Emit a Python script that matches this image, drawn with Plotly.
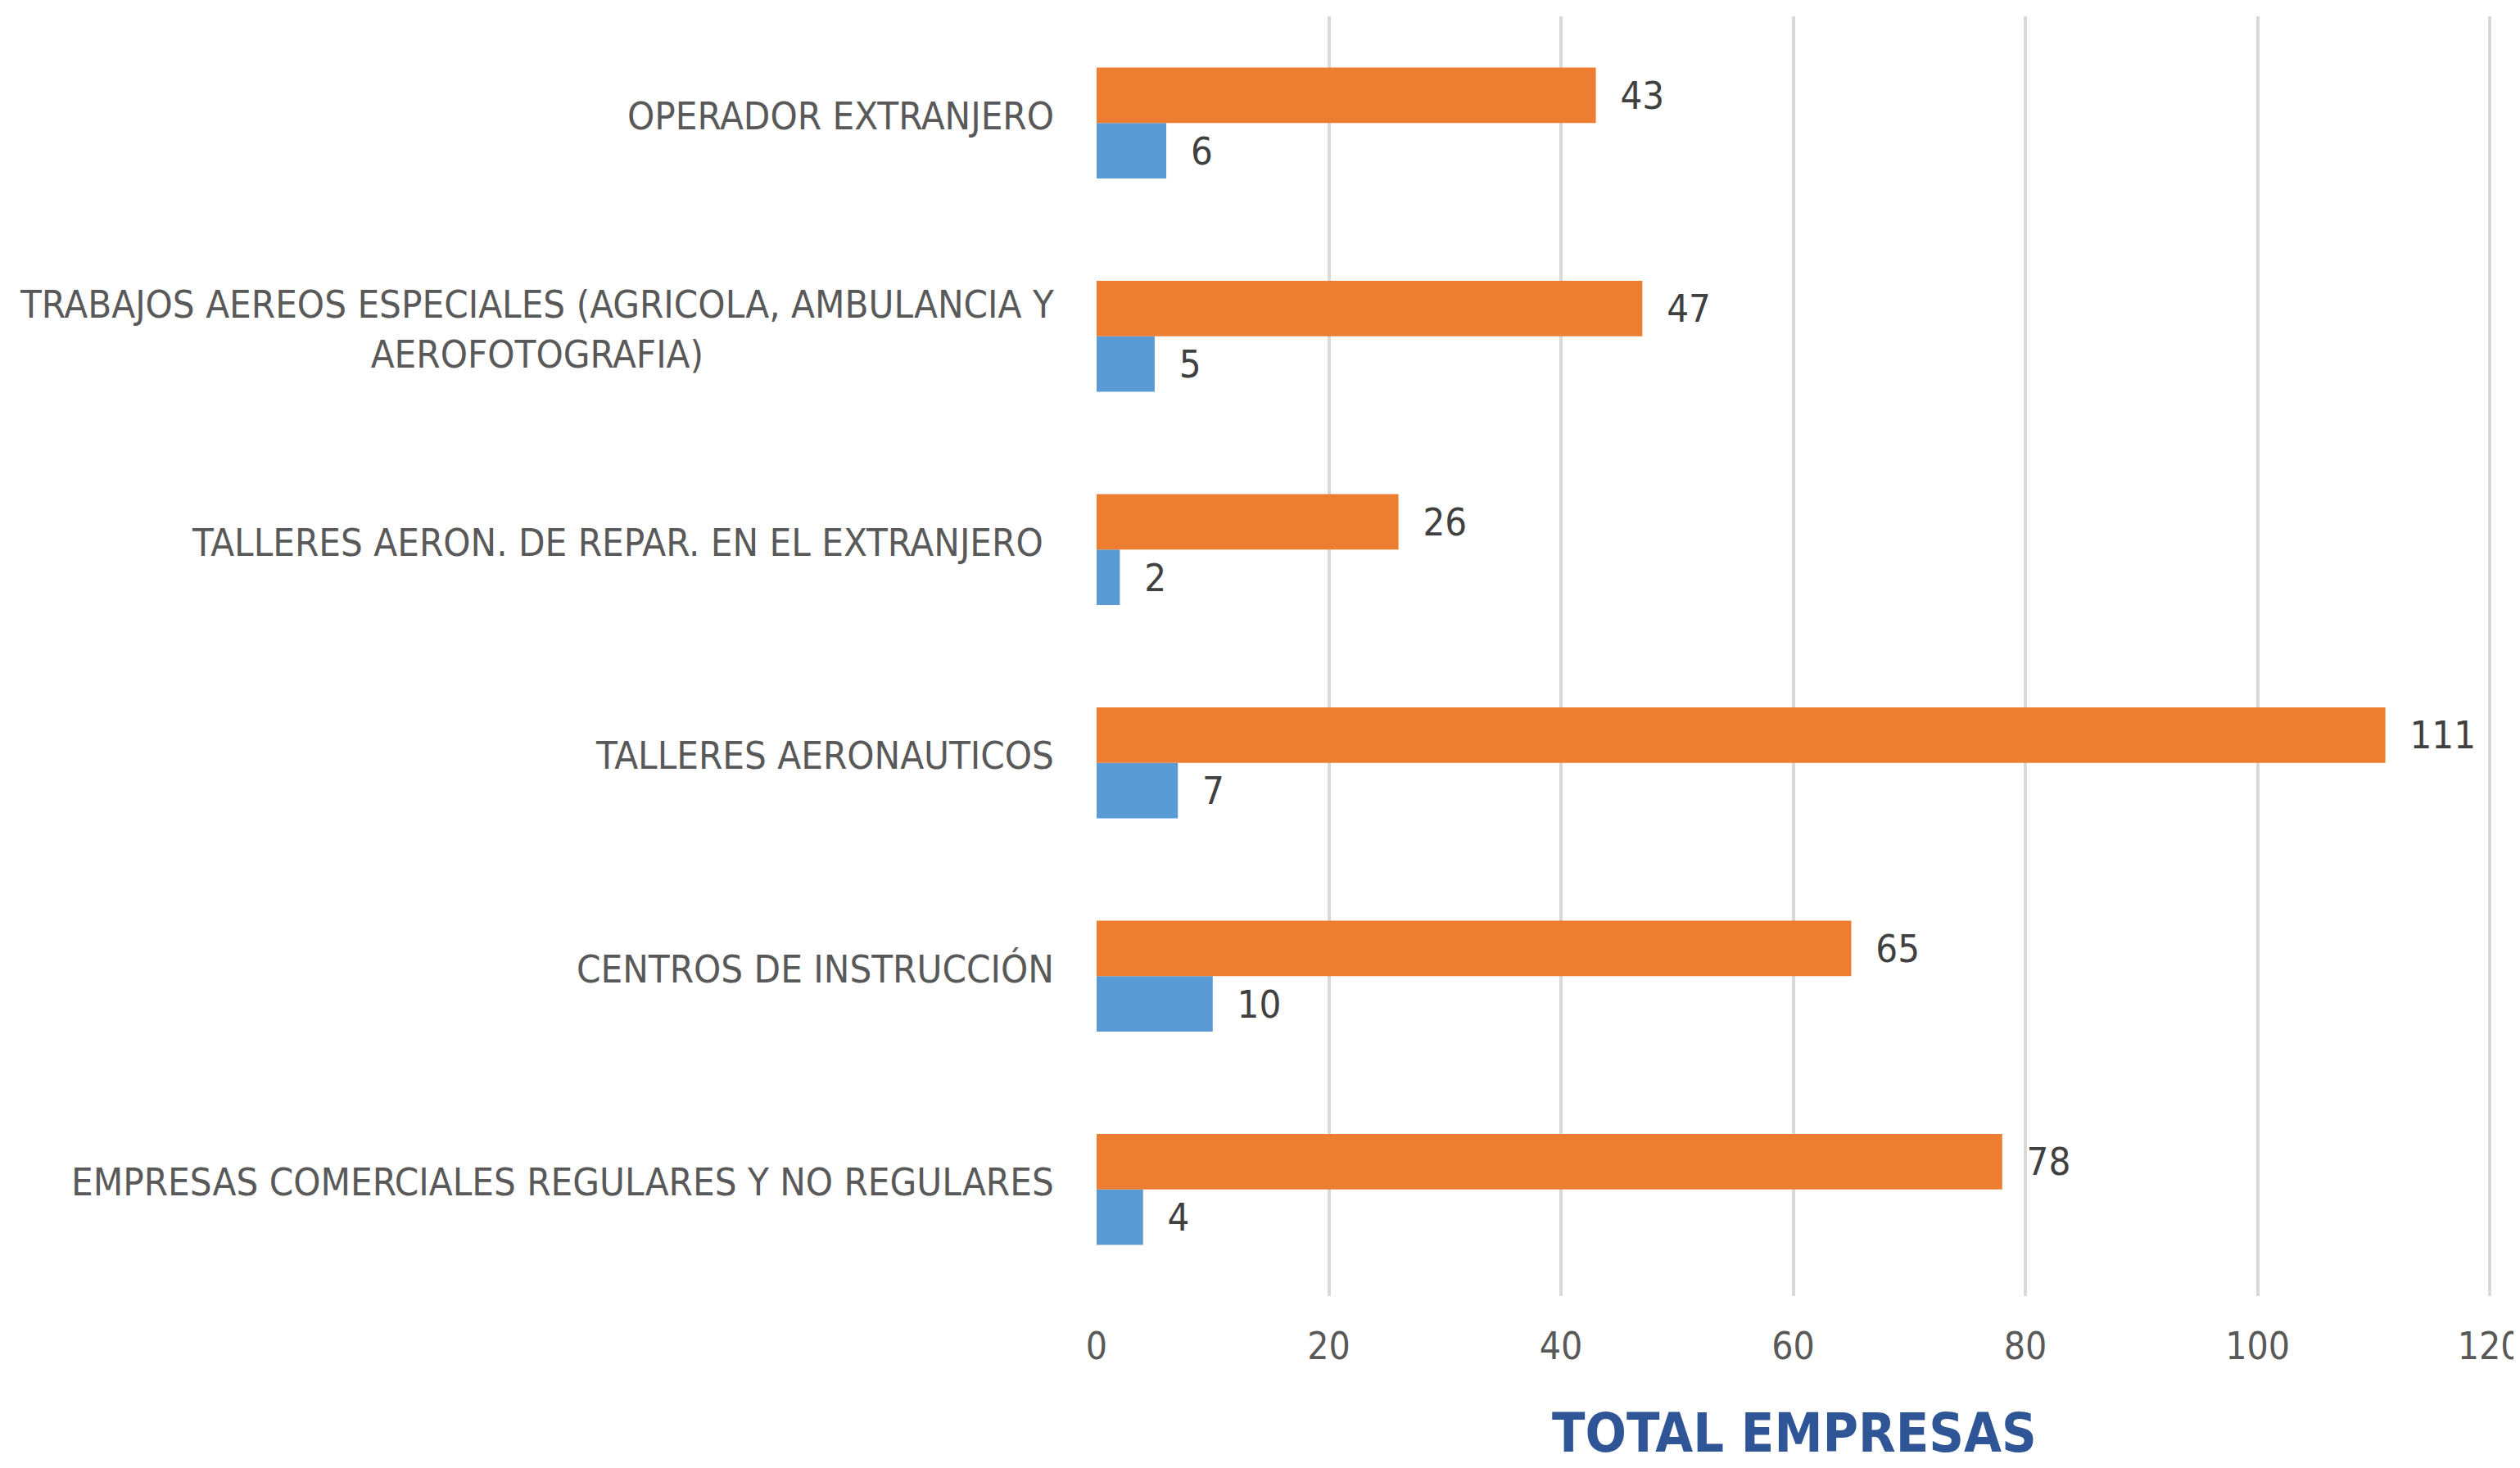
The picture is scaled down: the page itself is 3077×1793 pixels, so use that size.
import plotly.graph_objects as go

# categories listed bottom -> top, as they sit on the y axis
categorias = [
    "EMPRESAS COMERCIALES REGULARES Y NO REGULARES",
    "CENTROS DE INSTRUCCIÓN",
    "TALLERES AERONAUTICOS",
    "TALLERES AERON. DE REPAR. EN EL EXTRANJERO ",
    "TRABAJOS AEREOS ESPECIALES (AGRICOLA, AMBULANCIA Y<br>AEROFOTOGRAFIA)",
    "OPERADOR EXTRANJERO",
]
serie_azul = [4, 10, 7, 2, 5, 6]
serie_naranja = [78, 65, 111, 26, 47, 43]
ticks_x = [0, 20, 40, 60, 80, 100, 120]

FONT = "DejaVu Sans Condensed, Liberation Sans, sans-serif"
AZUL = "#5B9BD5"
NARANJA = "#ED7D31"

fig = go.Figure()

# in a horizontal group the first trace sits lowest, so blue goes first
fig.add_trace(go.Bar(y=categorias, x=serie_azul, orientation="h",
                     marker=dict(color=AZUL, line=dict(width=0)),
                     text=serie_azul, texttemplate="\u00a0\u00a0%{x}",
                     textposition="outside", cliponaxis=False,
                     textfont=dict(family=FONT, size=47, color="#404040")))
fig.add_trace(go.Bar(y=categorias, x=serie_naranja, orientation="h",
                     marker=dict(color=NARANJA, line=dict(width=0)),
                     text=serie_naranja, texttemplate="\u00a0\u00a0%{x}",
                     textposition="outside", cliponaxis=False,
                     textfont=dict(family=FONT, size=47, color="#404040")))

# category labels as annotations so the two-line label is centred
for c in categorias:
    fig.add_annotation(x=0, xref="paper", y=c, yref="y", text=c,
                       showarrow=False, xanchor="right", yanchor="middle",
                       align="center", xshift=-50, yshift=9,
                       font=dict(family=FONT, size=47, color="#595959"))

# axis title placed by hand, the built-in one gets squeezed by the margin
fig.add_annotation(x=0.5, xref="paper", y=0, yref="paper",
                   text="<b>TOTAL EMPRESAS</b>", showarrow=False,
                   xanchor="center", yanchor="middle", yshift=-167,
                   font=dict(family=FONT, size=66, color="#2F5597"))

# page body has an 8px margin, so the figure is 16px smaller than the window
fig.update_layout(
    width=3061, height=1777,
    margin=dict(l=1331, r=26, t=12, b=202),
    paper_bgcolor="white", plot_bgcolor="white",
    barmode="group", bargap=0.48, bargroupgap=0,
    showlegend=False,
    xaxis=dict(range=[0, 120.2], tickvals=ticks_x, automargin=False,
               showgrid=True, gridcolor="#D9D9D9", gridwidth=4,
               zeroline=False, showline=False,
               tickfont=dict(family=FONT, size=46, color="#595959"),
               ticklabelstandoff=30, ticklabeloverflow="allow"),
    yaxis=dict(showticklabels=False, showgrid=False, zeroline=False,
               showline=False, automargin=False,
               categoryorder="array", categoryarray=categorias),
)

fig.write_html("out.html")
